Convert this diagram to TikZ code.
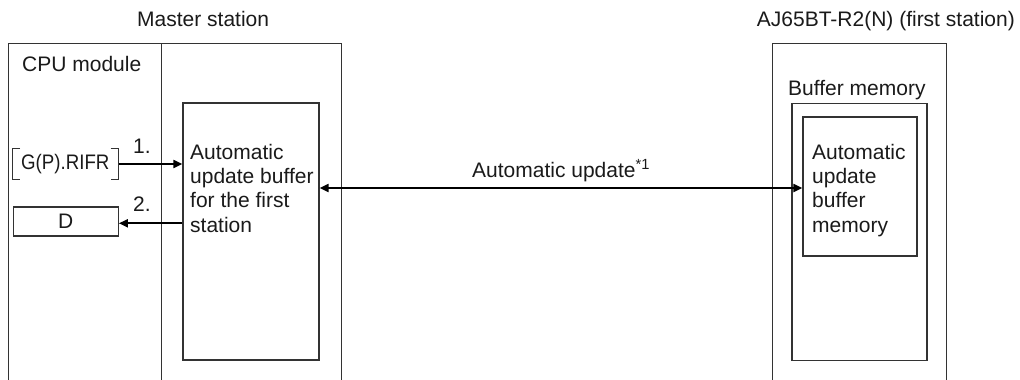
\documentclass[tikz,border=0pt]{standalone}
\usepackage{fontspec}
\setmainfont{Liberation Sans}
\usetikzlibrary{arrows.meta}
\definecolor{ln}{HTML}{333333}
\definecolor{tx}{HTML}{1A1A1A}
\begin{document}
\begin{tikzpicture}[x=1pt,y=-1pt,
  every node/.style={font=\fontsize{21}{24.4}\selectfont, text=tx, inner sep=0pt},
  box/.style={draw=ln, line width=1.2pt, minimum width=#1},
  frame/.style={draw=ln, line width=1.2pt},
  arr/.style={draw=black, line width=1.9pt, -{Triangle[length=9pt,width=8pt]}},
  darr/.style={draw=black, line width=1.9pt, {Triangle[length=9pt,width=8pt]}-{Triangle[length=9pt,width=8pt]}},
  lbl/.style={anchor=base west, align=left}
]
\useasboundingbox (0,0) rectangle (1020,380);
% frames
\draw[frame] (8.3,380) -- (8.3,43.3) -- (341.7,43.3) -- (341.7,380);
\draw[frame] (161.7,43.3) -- (161.7,380);
\draw[frame] (772.7,380) -- (772.7,43.3) -- (946.5,43.3) -- (946.5,380);
% titles
\node[lbl] (master) at (137,26.7) {Master station};
\node[anchor=base east] (slave) at (1015,26.7) {AJ65BT-R2(N) (first station)};
\node[lbl] (cpu) at (22,71.7) {CPU module};
\node[lbl] (bmlbl) at (788,95) {Buffer memory};
% boxes
\node[box=136pt, minimum height=257pt] (midbuf) at (251,231.5) {};
\node[box=135pt, minimum height=257pt] (bufmem) at (859.5,232) {};
\node[box=114pt, minimum height=139pt] (inner) at (860,186.5) {};
\node[box=105pt, minimum height=29pt] (dbox) at (65.8,221.5) {D};
\node[minimum width=106pt, minimum height=30pt] (rifr) at (65.3,164) {\scalebox{0.89}[1]{G(P).RIFR}};
\draw[frame] ([xshift=8pt]rifr.north west) -- (rifr.north west) -- (rifr.south west) -- ([xshift=8pt]rifr.south west);
\draw[frame] ([xshift=-8pt]rifr.north east) -- (rifr.north east) -- (rifr.south east) -- ([xshift=-8pt]rifr.south east);
% texts in boxes (base anchor = baseline of last line)
\node[lbl] (midtxt) at (190,232.2) {Automatic\\update buffer\\for the first\\station};
\node[lbl] (intxt) at (812,232.2) {Automatic\\update\\buffer\\memory};
% connectors
\draw[arr] (rifr.east) -- (midbuf.west |- rifr.east);
\draw[arr] (midbuf.west |- 0,223.3) -- (dbox.east |- 0,223.3);
\draw[darr] (midbuf.east |- 0,188) -- (inner.west |- 0,188);
% labels
\node[lbl] (l1) at (133,153) {1.};
\node[lbl] (l2) at (133,211.7) {2.};
\node[lbl] (au) at (472,177) {Automatic update\textsuperscript{*1}};
\end{tikzpicture}
\end{document}
